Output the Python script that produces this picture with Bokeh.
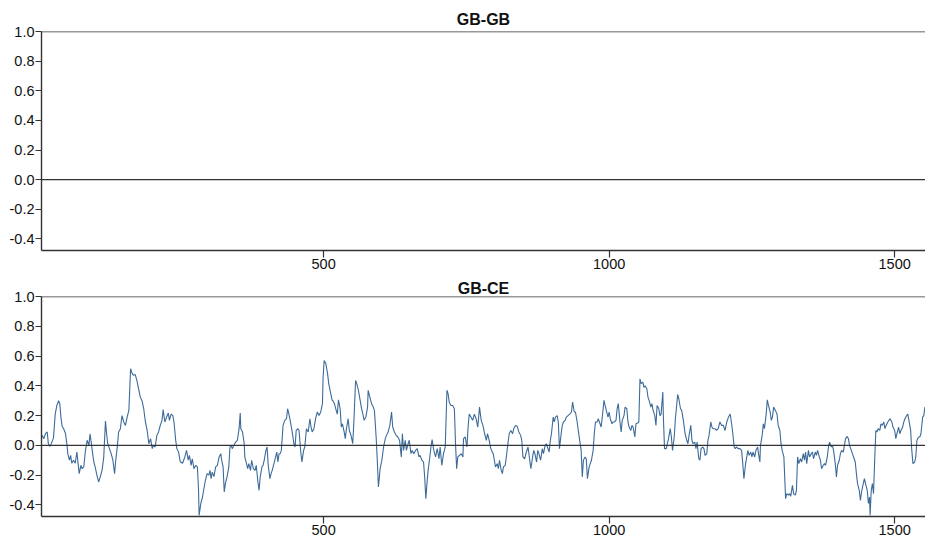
from bokeh.plotting import figure
from bokeh.layouts import column
from bokeh.models import Range1d, FixedTicker, NumeralTickFormatter, Span, ColumnDataSource
from bokeh.embed import file_html
from bokeh.resources import INLINE

# Rolling correlation, GB vs CE, by observation number
obs = [
    7, 10, 13, 16, 18, 21, 24, 27, 30, 33,
    36, 38, 40, 42, 45, 48, 51, 52, 55, 57,
    59, 62, 65, 68, 70, 72, 75, 77, 80, 83,
    86, 89, 91, 93, 96, 98, 100, 103, 106, 109,
    112, 115, 118, 120, 122, 125, 128, 131, 134, 136,
    139, 141, 144, 147, 150, 153, 156, 159, 162, 164,
    167, 170, 173, 176, 179, 182, 185, 188, 191, 194,
    197, 200, 202, 205, 208, 211, 214, 217, 219, 222,
    225, 228, 230, 233, 236, 238, 241, 243, 246, 249,
    253, 257,
    260, 263, 265, 268, 270, 273, 276, 279, 281, 282,
    285, 288, 290, 293, 296, 299, 301, 303, 305, 308,
    311, 314, 317, 320, 321, 324, 326, 328, 331, 334,
    336, 338, 340, 343, 346, 349, 352, 354, 355, 358,
    361, 362, 365, 367, 369, 372, 374, 377, 380, 382,
    385, 387, 389, 392, 394, 396, 399, 401, 403, 406,
    408, 410, 413, 416, 418, 420, 422, 424, 426, 429,
    432, 435, 437, 439, 442, 445, 448, 450, 452, 455,
    457, 460, 462, 465, 467, 470, 473, 476, 478, 480,
    483, 486, 489, 492, 495, 498, 499, 501, 504, 507,
    509, 512, 515,
    516, 519, 522, 524, 526, 529, 531, 533, 536, 538,
    540, 543, 545, 548, 551, 553, 556, 558, 561, 564,
    566, 568, 571, 574, 577, 578, 581, 584, 587, 589,
    592, 594, 596, 599, 602, 605, 608, 610, 613, 616,
    619, 621, 624, 627, 630, 633, 636, 638, 640, 643,
    645, 648, 650, 653, 655, 658, 661, 664, 667, 669,
    672, 675, 677, 679, 681, 683, 686, 688, 690, 693,
    696, 699, 702, 704, 707, 710, 713, 716, 718, 720,
    723, 726, 729, 731, 733, 735, 738, 741, 744, 745,
    748, 751, 753, 755, 758, 761, 764, 767, 770,
    773, 776, 779, 782, 785, 787, 790, 792, 794, 797,
    799, 801, 804, 806, 808, 811, 813, 815, 818, 820,
    822, 825, 828, 831, 833, 836, 839, 842, 845, 847,
    849, 852, 855, 858, 861, 863, 866, 868, 870, 873,
    875, 877, 880, 883, 885, 888, 890, 892, 895, 897,
    899, 902, 904, 906, 909, 911, 913, 916, 918, 920,
    923, 925, 928, 931, 934, 936, 939, 941, 944, 946,
    948, 951, 953, 955, 958, 960, 962, 965, 967, 969,
    972, 974, 976, 979, 981, 983, 986, 988, 991, 993,
    995, 998, 1000, 1002, 1005, 1007, 1009, 1012, 1014, 1016,
    1019, 1021, 1023, 1026, 1028,
    1031, 1033, 1035, 1038, 1040, 1042, 1045, 1047, 1050, 1052,
    1054, 1056, 1059, 1061, 1063, 1066, 1068, 1070, 1073, 1075,
    1077, 1080, 1082, 1084, 1087, 1089, 1091, 1094, 1095, 1097,
    1100, 1102, 1104, 1107, 1109, 1111, 1114, 1116, 1118, 1120,
    1122, 1125, 1127, 1130, 1133, 1136, 1138, 1140, 1143, 1145,
    1147, 1150, 1152, 1154, 1157, 1159, 1161, 1164, 1166, 1168,
    1171, 1173, 1175, 1178, 1180, 1182, 1185, 1188, 1191, 1194,
    1197, 1200, 1203, 1206, 1209, 1212, 1214, 1216, 1219, 1221,
    1223, 1226, 1229, 1232, 1234, 1236, 1239, 1241, 1243, 1245,
    1248, 1250, 1252, 1255, 1257, 1260, 1262, 1264, 1265, 1268,
    1270, 1272, 1275, 1277, 1279, 1282, 1284, 1286,
    1288, 1291, 1294, 1296, 1299, 1301, 1303, 1306, 1307, 1309,
    1311, 1314, 1316, 1318, 1321, 1323, 1326, 1328, 1330, 1332,
    1335, 1337, 1340, 1342, 1344, 1346, 1349, 1351, 1354, 1356,
    1358, 1361, 1363, 1365, 1368, 1370, 1372, 1375, 1377, 1379,
    1382, 1384, 1386, 1389, 1391, 1393, 1396, 1398, 1400, 1403,
    1405, 1407, 1410, 1412, 1414, 1417, 1419, 1421, 1423, 1426,
    1428, 1431, 1433, 1435, 1438, 1440, 1442, 1445, 1447, 1449,
    1452, 1454, 1456, 1457, 1459, 1461, 1463, 1465, 1467, 1469,
    1471, 1474, 1476, 1478, 1481, 1483, 1485, 1488, 1490, 1492,
    1495, 1497, 1500, 1502, 1504, 1507, 1509, 1511, 1514, 1516,
    1518, 1521, 1523, 1525, 1528, 1530, 1532, 1535, 1537, 1539,
    1542, 1544, 1546, 1549, 1551, 1553,
]

rho_gb_ce = [
    0.067, 0.045, 0.078, 0.09, 0.01, -0.007, 0.02, 0.05, 0.21, 0.27,
    0.30, 0.28, 0.19, 0.13, 0.11, 0.08, -0.01, -0.056, -0.10, -0.067,
    -0.12, -0.10, -0.12, -0.045, -0.12, -0.19, -0.134, -0.157, -0.145, -0.034,
    0.034, 0.0, 0.078, 0.022, -0.067, -0.12, -0.145, -0.20, -0.246, -0.21,
    -0.168, -0.078, 0.163, 0.078, 0.011, -0.022, -0.056, -0.10, -0.19, -0.10,
    0.0, 0.09, 0.11, 0.20, 0.157, 0.134, 0.19, 0.235, 0.515, 0.49,
    0.47, 0.477, 0.436, 0.38, 0.324, 0.30, 0.246, 0.157, 0.10, 0.011,
    0.045, -0.022, 0.0, -0.011, 0.067, 0.09, 0.134, 0.168, 0.24, 0.157,
    0.19, 0.217, 0.168, 0.21, 0.20, 0.157, 0.034, -0.022, -0.045, -0.11,
    -0.12, -0.078,
    -0.034, -0.10, -0.067, -0.134, -0.09, -0.157, -0.134, -0.145, -0.30, -0.47,
    -0.39, -0.347, -0.30, -0.235, -0.19, -0.20, -0.168, -0.224, -0.18, -0.21,
    -0.145, -0.134, -0.078, -0.056, -0.09, -0.145, -0.313, -0.257, -0.21, -0.145,
    -0.011, 0.0, -0.022, 0.0, 0.022, 0.034, 0.112, 0.217, 0.112, 0.09,
    0.011, -0.078, -0.123, -0.157, -0.123, -0.168, -0.10, -0.157, -0.168, -0.134,
    -0.246, -0.302, -0.213, -0.145, -0.134, -0.10, -0.034, -0.011, -0.134, -0.224,
    -0.19, -0.168, -0.123, -0.078, -0.045, -0.112, -0.056, -0.056, -0.034, 0.134,
    0.168, 0.179, 0.246, 0.213, 0.157, 0.09, 0.011, -0.011, 0.10, 0.112,
    0.10, -0.045, -0.112, -0.034, -0.011, 0.112, 0.09, 0.179, 0.123, 0.09,
    0.112, 0.179, 0.224, 0.20, 0.224, 0.28, 0.447, 0.57, 0.548, 0.48,
    0.414, 0.358, 0.302,
    0.302, 0.28, 0.235, 0.21, 0.306, 0.246, 0.123, 0.145, 0.09, 0.045,
    0.112, 0.179, 0.10, 0.067, 0.011, 0.157, 0.436, 0.414, 0.37, 0.302,
    0.257, 0.224, 0.168, 0.19, 0.257, 0.37, 0.324, 0.28, 0.257, 0.235,
    0.056, -0.10, -0.28, -0.157, -0.10, -0.011, 0.045, 0.067, 0.09, 0.134,
    0.224, 0.123, 0.09, 0.067, 0.056, 0.034, -0.078, 0.078, -0.034, 0.034,
    -0.034, 0.011, 0.034, -0.056, -0.034, -0.056, -0.034, -0.022, -0.078, -0.067,
    -0.10, -0.112, -0.213, -0.358, -0.257, -0.168, -0.078, -0.011, 0.038, -0.034,
    -0.078, -0.022, -0.09, -0.011, -0.134, -0.056, -0.011, 0.37, 0.347, 0.29,
    0.268, 0.268, 0.246, 0.011, -0.157, -0.078, -0.067, -0.056, -0.078, 0.045,
    0.056, -0.011, 0.123, 0.21, 0.19, 0.168, 0.21, 0.179, 0.123,
    0.257, 0.168, 0.134, 0.078, 0.034, 0.078, 0.034, -0.011, -0.034, -0.056,
    -0.10, -0.145, -0.123, -0.157, -0.10, -0.168, -0.19, -0.145, -0.134, -0.078,
    -0.011, 0.078, 0.10, 0.078, 0.112, 0.134, 0.128, 0.09, 0.067, 0.034,
    -0.078, -0.09, -0.045, -0.011, -0.10, -0.157, -0.078, -0.034, -0.056, -0.112,
    -0.034, -0.056, -0.10, -0.022, -0.056, 0.0, 0.011, -0.011, -0.045, 0.034,
    0.078, 0.19, 0.157, 0.19, 0.20, 0.157, -0.022, 0.078, 0.134, 0.157,
    0.168, 0.19, 0.20, 0.21, 0.224, 0.29, 0.224, 0.224, 0.157, 0.10,
    0.045, -0.034, -0.213, -0.10, -0.078, -0.09, -0.224, -0.145, -0.123, -0.10,
    -0.034, 0.078, 0.157, 0.157, 0.179, 0.157, 0.123, 0.19, 0.302, 0.268,
    0.235, 0.19, 0.224, 0.179, 0.145, 0.157, 0.157, 0.168, 0.246, 0.28,
    0.157, 0.09, 0.168, 0.20, 0.257,
    0.246, 0.157, 0.123, 0.10, 0.134, 0.123, 0.056, 0.145, 0.15, 0.157,
    0.447, 0.414, 0.425, 0.39, 0.40, 0.38, 0.324, 0.302, 0.257, 0.28,
    0.235, 0.20, 0.134, 0.268, 0.246, 0.20, 0.21, 0.358, 0.19, -0.022,
    -0.022, 0.011, 0.045, 0.112, 0.056, -0.034, 0.056, 0.179, 0.257, 0.342,
    0.313, 0.246, 0.235, 0.168, 0.078, 0.034, 0.011, 0.067, 0.134, 0.034,
    0.011, 0.022, -0.022, 0.022, -0.09, -0.10, -0.022, -0.011, -0.022, -0.067,
    -0.056, 0.034, 0.067, 0.157, 0.123, 0.112, 0.112, 0.10, 0.112, 0.157,
    0.134, 0.134, 0.10, 0.157, 0.19, 0.21, 0.157, 0.10, -0.011, -0.022,
    -0.011, -0.022, -0.022, -0.034, -0.123, -0.224, -0.123, -0.078, -0.034, -0.067,
    -0.045, -0.078, -0.045, -0.078, -0.034, -0.011, -0.067, -0.112, 0.0, 0.067,
    0.145, 0.112, 0.21, 0.306, 0.268, 0.224, 0.168, 0.19,
    0.257, 0.235, 0.21, 0.134, 0.10, 0.011, -0.034, -0.078, -0.168, -0.358,
    -0.324, -0.335, -0.324, -0.342, -0.268, -0.324, -0.335, -0.302, -0.078, -0.123,
    -0.09, -0.112, -0.056, -0.10, -0.045, -0.123, -0.034, -0.078, -0.056, -0.045,
    -0.09, -0.045, -0.067, -0.034, -0.078, -0.10, -0.157, -0.134, -0.123, -0.134,
    -0.078, -0.011, 0.022, -0.011, 0.0, -0.034, -0.123, -0.213, -0.134, -0.10,
    -0.056, -0.034, -0.045, 0.0, 0.045, 0.06, 0.045, 0.0, -0.022, -0.056,
    -0.078, -0.112, -0.19, -0.257, -0.302, -0.37, -0.313, -0.257, -0.224, -0.257,
    -0.302, -0.39, -0.347, -0.47, -0.302, -0.257, -0.324, -0.10, 0.10, 0.09,
    0.112, 0.10, 0.145, 0.134, 0.157, 0.112, 0.134, 0.157, 0.168, 0.179,
    0.157, 0.123, 0.10, 0.045, 0.078, 0.123, 0.078, 0.10, 0.123, 0.157,
    0.179, 0.20, 0.21, 0.168, 0.10, -0.034, -0.123, -0.112, -0.078, 0.034,
    0.056, 0.056, 0.078, 0.19, 0.20, 0.257,
]

y_ticks = [-0.4, -0.2, 0.0, 0.2, 0.4, 0.6, 0.8, 1.0]
x_ticks = [500, 1000, 1500]
X_LO, X_HI = 6, 1554
Y_LO, Y_HI = -0.478, 1.0

FONT = "Liberation Sans"
INK = "#333333"
TEXT = "#111111"


def make_panel(name, height, border_top, border_bottom, title_standoff):
    p = figure(width=925, height=height, output_backend="svg", toolbar_location=None,
               x_range=Range1d(X_LO, X_HI), y_range=Range1d(Y_LO, Y_HI),
               min_border_left=41, min_border_right=0,
               min_border_top=border_top, min_border_bottom=border_bottom)
    p.title.text = name
    p.title.align = "center"
    p.title.text_font = FONT
    p.title.text_font_size = "16px"
    p.title.text_font_style = "bold"
    p.title.text_color = TEXT
    p.title.standoff = title_standoff
    p.xgrid.visible = False
    p.ygrid.visible = False
    p.outline_line_color = None
    p.background_fill_color = "white"
    p.border_fill_color = "white"

    for ax in (p.xaxis[0], p.yaxis[0]):
        ax.axis_line_color = INK
        ax.axis_line_width = 1.4
        ax.major_tick_line_color = INK
        ax.major_tick_line_width = 1.2
        ax.major_tick_in = 0
        ax.minor_tick_line_color = None
        ax.major_label_text_font = FONT
        ax.major_label_text_font_size = "14.5px"
        ax.major_label_text_color = TEXT

    p.yaxis[0].ticker = FixedTicker(ticks=y_ticks)
    p.yaxis[0].formatter = NumeralTickFormatter(format="0.0")
    p.yaxis[0].major_tick_out = 6
    p.yaxis[0].major_label_standoff = 1
    p.xaxis[0].ticker = FixedTicker(ticks=x_ticks)
    p.xaxis[0].major_tick_out = 7
    p.xaxis[0].major_label_standoff = 1

    # frame top edge and the zero reference line
    p.add_layout(Span(location=Y_HI, dimension="width", line_color=INK, line_width=1.4))
    p.add_layout(Span(location=0.0, dimension="width", line_color=INK, line_width=1.3))
    return p


top = make_panel("GB-GB", 275, 31, 25, 8)
bottom = make_panel("GB-CE", 268, 21, 27, 0)

n = min(len(obs), len(rho_gb_ce))
src = ColumnDataSource(data=dict(x=obs[:n], y=rho_gb_ce[:n]))
bottom.line("x", "y", source=src, line_color="#3d6b99", line_width=1.1)

layout = column(top, bottom, spacing=0)
open("out.html", "w").write(file_html(layout, INLINE))
